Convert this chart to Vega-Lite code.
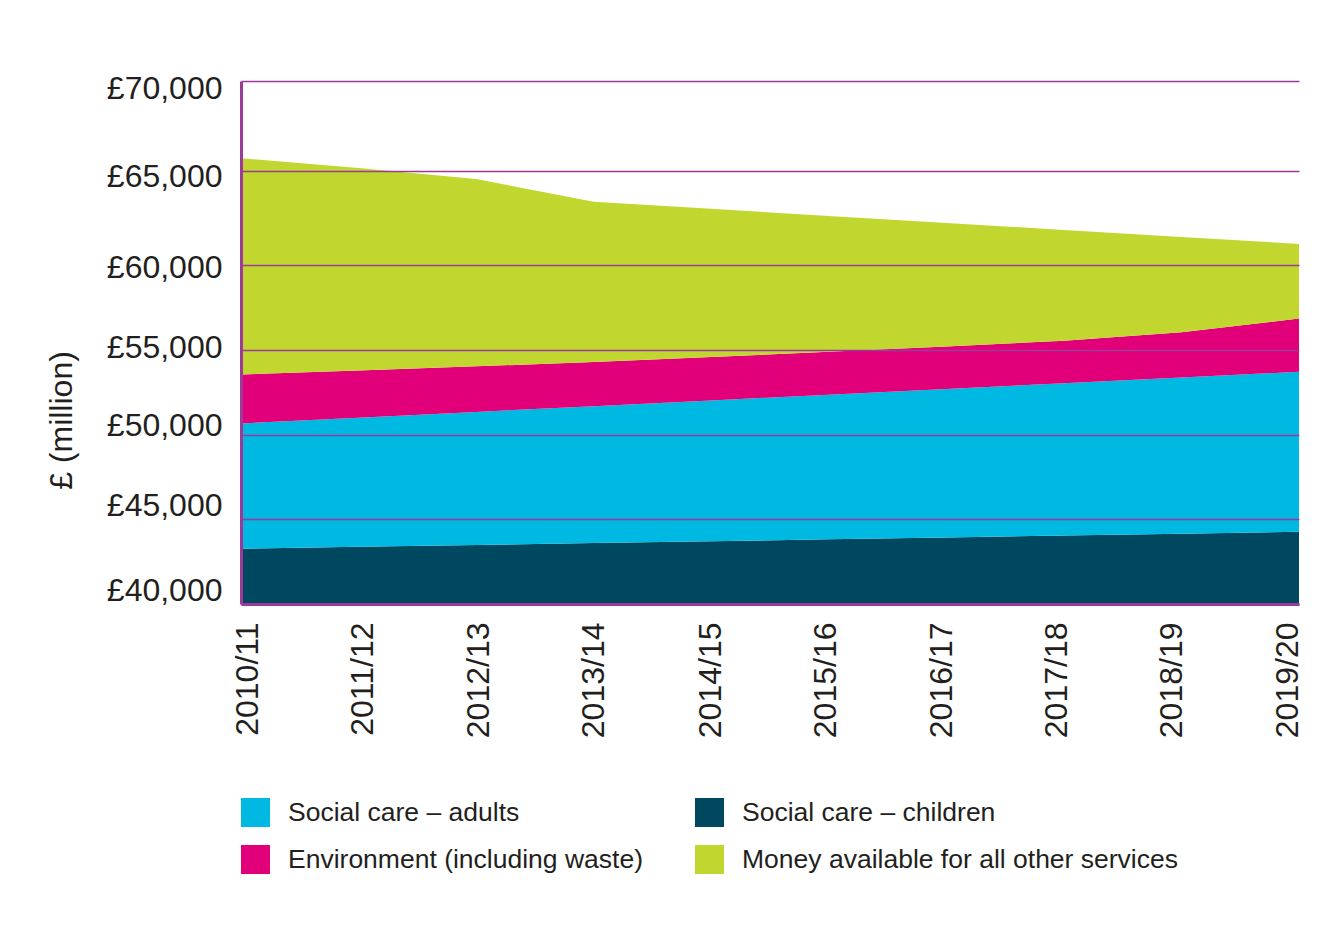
{
  "$schema": "https://vega.github.io/schema/vega-lite/v6.json",
  "width": 1058,
  "height": 523,
  "autosize": {"type": "none"},
  "padding": {"left": 241, "top": 81, "right": 35, "bottom": 323},
  "background": "white",
  "config": {"view": {"stroke": null}, "font": "Liberation Sans"},
  "data": {
    "values": [
      {"year": "2010/11", "series": "Social care – children", "rank": 1, "value": 43240},
      {"year": "2011/12", "series": "Social care – children", "rank": 1, "value": 43350},
      {"year": "2012/13", "series": "Social care – children", "rank": 1, "value": 43460},
      {"year": "2013/14", "series": "Social care – children", "rank": 1, "value": 43570},
      {"year": "2014/15", "series": "Social care – children", "rank": 1, "value": 43680},
      {"year": "2015/16", "series": "Social care – children", "rank": 1, "value": 43790},
      {"year": "2016/17", "series": "Social care – children", "rank": 1, "value": 43900},
      {"year": "2017/18", "series": "Social care – children", "rank": 1, "value": 44010},
      {"year": "2018/19", "series": "Social care – children", "rank": 1, "value": 44120},
      {"year": "2019/20", "series": "Social care – children", "rank": 1, "value": 44230},
      {"year": "2010/11", "series": "Social care – adults", "rank": 2, "value": 7430},
      {"year": "2011/12", "series": "Social care – adults", "rank": 2, "value": 7660},
      {"year": "2012/13", "series": "Social care – adults", "rank": 2, "value": 7890},
      {"year": "2013/14", "series": "Social care – adults", "rank": 2, "value": 8120},
      {"year": "2014/15", "series": "Social care – adults", "rank": 2, "value": 8350},
      {"year": "2015/16", "series": "Social care – adults", "rank": 2, "value": 8580},
      {"year": "2016/17", "series": "Social care – adults", "rank": 2, "value": 8810},
      {"year": "2017/18", "series": "Social care – adults", "rank": 2, "value": 9040},
      {"year": "2018/19", "series": "Social care – adults", "rank": 2, "value": 9270},
      {"year": "2019/20", "series": "Social care – adults", "rank": 2, "value": 9500},
      {"year": "2010/11", "series": "Environment (including waste)", "rank": 3, "value": 2900},
      {"year": "2011/12", "series": "Environment (including waste)", "rank": 3, "value": 2800},
      {"year": "2012/13", "series": "Environment (including waste)", "rank": 3, "value": 2700},
      {"year": "2013/14", "series": "Environment (including waste)", "rank": 3, "value": 2610},
      {"year": "2014/15", "series": "Environment (including waste)", "rank": 3, "value": 2570},
      {"year": "2015/16", "series": "Environment (including waste)", "rank": 3, "value": 2550},
      {"year": "2016/17", "series": "Environment (including waste)", "rank": 3, "value": 2520},
      {"year": "2017/18", "series": "Environment (including waste)", "rank": 3, "value": 2510},
      {"year": "2018/19", "series": "Environment (including waste)", "rank": 3, "value": 2670},
      {"year": "2019/20", "series": "Environment (including waste)", "rank": 3, "value": 3130},
      {"year": "2010/11", "series": "Money available for all other services", "rank": 4, "value": 12130},
      {"year": "2011/12", "series": "Money available for all other services", "rank": 4, "value": 11340},
      {"year": "2012/13", "series": "Money available for all other services", "rank": 4, "value": 10510},
      {"year": "2013/14", "series": "Money available for all other services", "rank": 4, "value": 9050},
      {"year": "2014/15", "series": "Money available for all other services", "rank": 4, "value": 8380},
      {"year": "2015/16", "series": "Money available for all other services", "rank": 4, "value": 7680},
      {"year": "2016/17", "series": "Money available for all other services", "rank": 4, "value": 7000},
      {"year": "2017/18", "series": "Money available for all other services", "rank": 4, "value": 6300},
      {"year": "2018/19", "series": "Money available for all other services", "rank": 4, "value": 5430},
      {"year": "2019/20", "series": "Money available for all other services", "rank": 4, "value": 4260}
    ]
  },
  "mark": {"type": "area", "clip": true, "interpolate": "linear"},
  "encoding": {
    "x": {
      "field": "year",
      "type": "ordinal",
      "scale": {"padding": 0},
      "axis": {
        "title": null,
        "labelAngle": -90,
        "labelFontSize": 32,
        "labelColor": "#231F20",
        "labelPadding": 18,
        "labelOffset": {
          "condition": [
            {"test": "datum.value == '2010/11'", "value": 6},
            {"test": "datum.value == '2011/12'", "value": 4},
            {"test": "datum.value == '2012/13'", "value": 2},
            {"test": "datum.value == '2014/15'", "value": -1},
            {"test": "datum.value == '2015/16'", "value": -3},
            {"test": "datum.value == '2016/17'", "value": -5},
            {"test": "datum.value == '2017/18'", "value": -7},
            {"test": "datum.value == '2018/19'", "value": -10},
            {"test": "datum.value == '2019/20'", "value": -12}
          ],
          "value": 0
        },
        "ticks": false,
        "grid": false,
        "domainColor": "#9B3A97",
        "domainWidth": 3,
        "zindex": 1
      }
    },
    "y": {
      "field": "value",
      "type": "quantitative",
      "stack": "zero",
      "scale": {
        "domain": [40000, 45000, 50000, 55000, 60000, 65000, 70000],
        "range": [523, 437.7, 353.7, 269.3, 184, 89.7, 0],
        "nice": false,
        "zero": false
      },
      "axis": {
        "values": [40000, 45000, 50000, 55000, 60000, 65000, 70000],
        "labelExpr": "'£' + format(datum.value, ',')",
        "labelFontSize": 32,
        "labelColor": "#231F20",
        "labelPadding": 19,
        "labelOffset": {
          "condition": [
            {"test": "datum.value == 70000", "value": 7},
            {"test": "datum.value == 65000", "value": 6},
            {"test": "datum.value == 60000", "value": 2},
            {"test": "datum.value == 55000", "value": -3},
            {"test": "datum.value == 50000", "value": -9},
            {"test": "datum.value == 45000", "value": -13},
            {"test": "datum.value == 40000", "value": -14}
          ],
          "value": 0
        },
        "ticks": false,
        "grid": true,
        "gridColor": "#9B3A97",
        "gridWidth": 1.5,
        "domainColor": "#9B3A97",
        "domainWidth": 3,
        "zindex": 1,
        "title": "£ (million)",
        "titleFontSize": 32,
        "titleFontWeight": "normal",
        "titleColor": "#231F20",
        "titleAngle": -90,
        "titleAlign": "center",
        "titleBaseline": "bottom",
        "titleX": -163,
        "titleY": 339
      }
    },
    "color": {
      "field": "series",
      "type": "nominal",
      "scale": {
        "domain": ["Social care – adults", "Social care – children", "Environment (including waste)", "Money available for all other services"],
        "range": ["#00B9E3", "#00485F", "#E2007A", "#C1D72F"]
      },
      "legend": {
        "orient": "none",
        "legendX": 0,
        "legendY": 717,
        "direction": "horizontal",
        "columns": 2,
        "title": null,
        "symbolType": "square",
        "symbolSize": 841,
        "symbolStrokeWidth": 0,
        "symbolOpacity": 1,
        "labelFontSize": 26.5,
        "labelColor": "#231F20",
        "labelOffset": 18,
        "labelLimit": 700,
        "columnPadding": 52,
        "rowPadding": 18
      }
    },
    "order": {"field": "rank", "type": "quantitative"}
  }
}
